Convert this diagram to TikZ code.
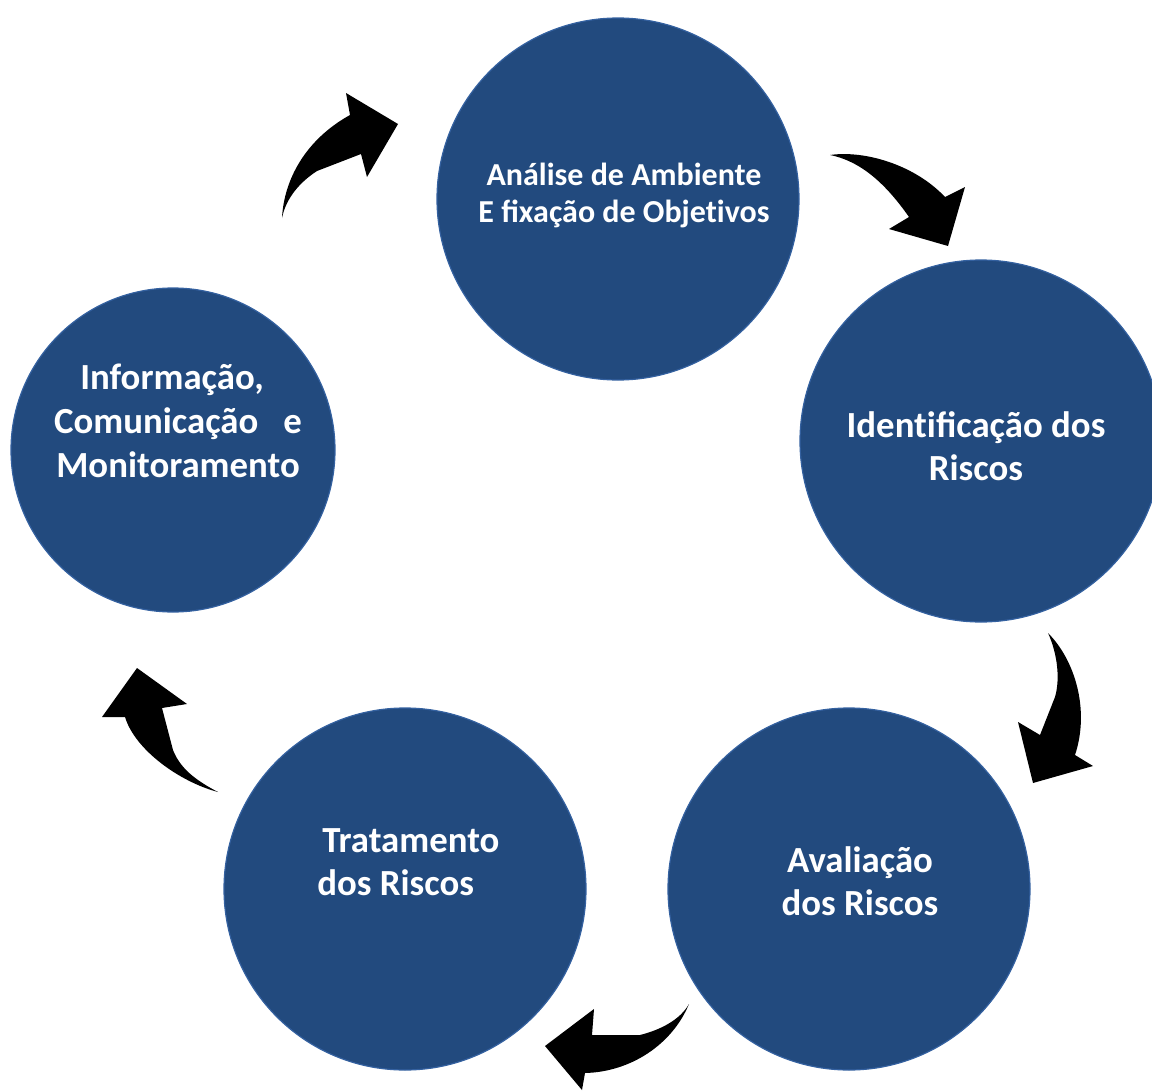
\documentclass[tikz,border=0pt]{standalone}
\usepackage{fontspec}
\setmainfont{Carlito}
\usetikzlibrary{positioning}
\definecolor{circblue}{HTML}{224A7E}
\definecolor{circedge}{HTML}{3461A0}
\tikzset{stage/.style={circle, fill=circblue, draw=circedge, line width=0.6pt, inner sep=0pt, minimum size=181pt},
	stagetext/.style={text=white, font=\bfseries\fontsize{18.4}{21.5}\selectfont, align=center, inner sep=0pt},
	bentarrow/.style={fill=black}}

\begin{document}
\begin{tikzpicture}[x=0.5pt, y=-0.5pt]
	\useasboundingbox (0,0) rectangle (1152,1092);
	% the five stages
	\node[stage] at (618,199) (analise) {};
	\node[stage] at (981,441) (ident) {};
	\node[stage] at (849,889) (aval) {};
	\node[stage] at (405,889) (trat) {};
	\node[stage, minimum size=162pt] at (173,450) (info) {};
	\node[stagetext, font=\bfseries\fontsize{16}{18.5}\selectfont] at (624,195) (analise text) {Análise de Ambiente\\E fixação de Objet\kern0pt ivos};
	\node[stagetext] at (976,446) (ident text) {Ident\kern0pt ificação dos\\Riscos};
	\node[stagetext] at (860,881) (aval text) {Avaliação\\dos Riscos};
	\node[stagetext, align=left, anchor=west] at (317,862) (trat text) {\hspace*{2.5pt}Tratamento\\dos Riscos};
	\node[stagetext, font=\bfseries\fontsize{18.4}{22}\selectfont] at (178,421) (info text) {\hspace*{-6pt}Informação,\\Comunicação\ \ \ e\\Monitoramento};
	% curved block arrows between the stages
	\fill[bentarrow] (282,218) .. controls (284,180) and (305,140) .. (350,115) -- (346,93) -- (398,124) -- (367,177) -- (361,154) -- (317,171) .. controls (300,182) and (286,198) .. (282,218) -- cycle;
	\fill[bentarrow] (830,155) .. controls (865,150) and (915,165) .. (945,197) -- (965,187) -- (948,246) -- (889,229) -- (909,217) .. controls (890,190) and (865,162) .. (830,155) -- cycle;
	\fill[bentarrow] (1048,633) .. controls (1075,660) and (1090,710) .. (1075,755) -- (1093,766) -- (1033,783) -- (1018,722) -- (1040,735) -- (1055,697) .. controls (1060,680) and (1058,655) .. (1048,633) -- cycle;
	\fill[bentarrow] (689,1004) .. controls (672,1045) and (630,1072) .. (585,1073) -- (582,1090) -- (545,1046) -- (594,1009) -- (592,1035) -- (640,1035) .. controls (660,1030) and (680,1020) .. (689,1004) -- cycle;
	\fill[bentarrow] (218,792) .. controls (180,782) and (135,750) .. (125,717) -- (102,717) -- (137,668) -- (187,704) -- (162,708) -- (173,750) .. controls (180,768) and (195,780) .. (218,792) -- cycle;
\end{tikzpicture}
\end{document}
